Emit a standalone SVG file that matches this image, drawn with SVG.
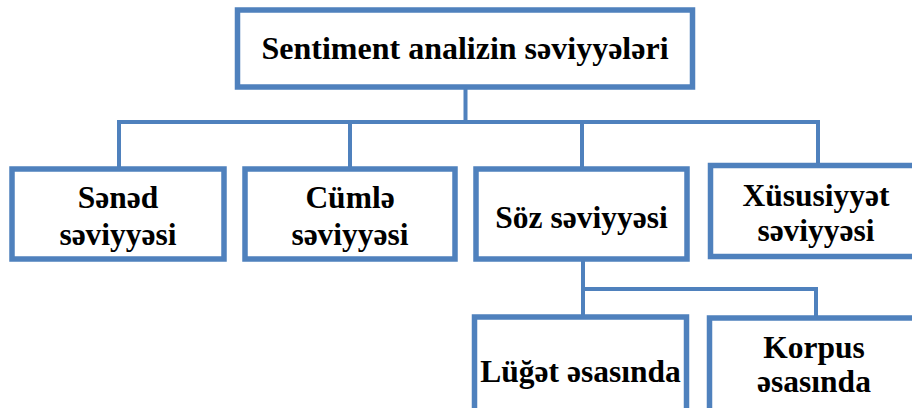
<svg xmlns="http://www.w3.org/2000/svg" width="912" height="408" viewBox="0 0 912 408">
<style>
.box{fill:#fff;stroke:#4F81BD;stroke-width:5.5}
.con{fill:none;stroke:#4F81BD;stroke-width:4}
.t{font-family:'Liberation Serif','Times New Roman','DejaVu Serif',serif;font-weight:700;font-size:31.5px;fill:#000;text-anchor:middle}
</style>
<rect width="912" height="408" fill="#fff"/>
<g id="connectors">
<path class="con" d="M465.5 87V122M119 169V122H818V165.5M350 122V169M582 122V169"/>
<path class="con" d="M583 259V289H816V318M583 289V317"/>
</g>
<g id="root"><rect class="box" x="237.5" y="10" width="455" height="77"/><text class="t" x="465" y="59" style="font-size:32px">Sentiment analizin səviyyələri</text></g>
<g id="sened"><rect class="box" x="12" y="169" width="212" height="90"/><text class="t" x="118" y="208">Sənəd</text><text class="t" x="118" y="245">səviyyəsi</text></g>
<g id="cumle"><rect class="box" x="245" y="169" width="210" height="90"/><text class="t" x="350" y="208">Cümlə</text><text class="t" x="350" y="245">səviyyəsi</text></g>
<g id="soz"><rect class="box" x="476" y="169" width="211" height="90"/><text class="t" x="581.5" y="228">Söz səviyyəsi</text></g>
<g id="xususiyyet"><rect class="box" x="710.5" y="165.5" width="211" height="91"/><text class="t" x="816" y="206">Xüsusiyyət</text><text class="t" x="816" y="241">səviyyəsi</text></g>
<g id="luget"><rect class="box" x="474.5" y="317" width="212" height="100"/><text class="t" x="580.5" y="382">Lüğət əsasında</text></g>
<g id="korpus"><rect class="box" x="709.5" y="318" width="210" height="100"/><text class="t" x="814" y="358">Korpus</text><text class="t" x="814" y="392">əsasında</text></g>
</svg>
